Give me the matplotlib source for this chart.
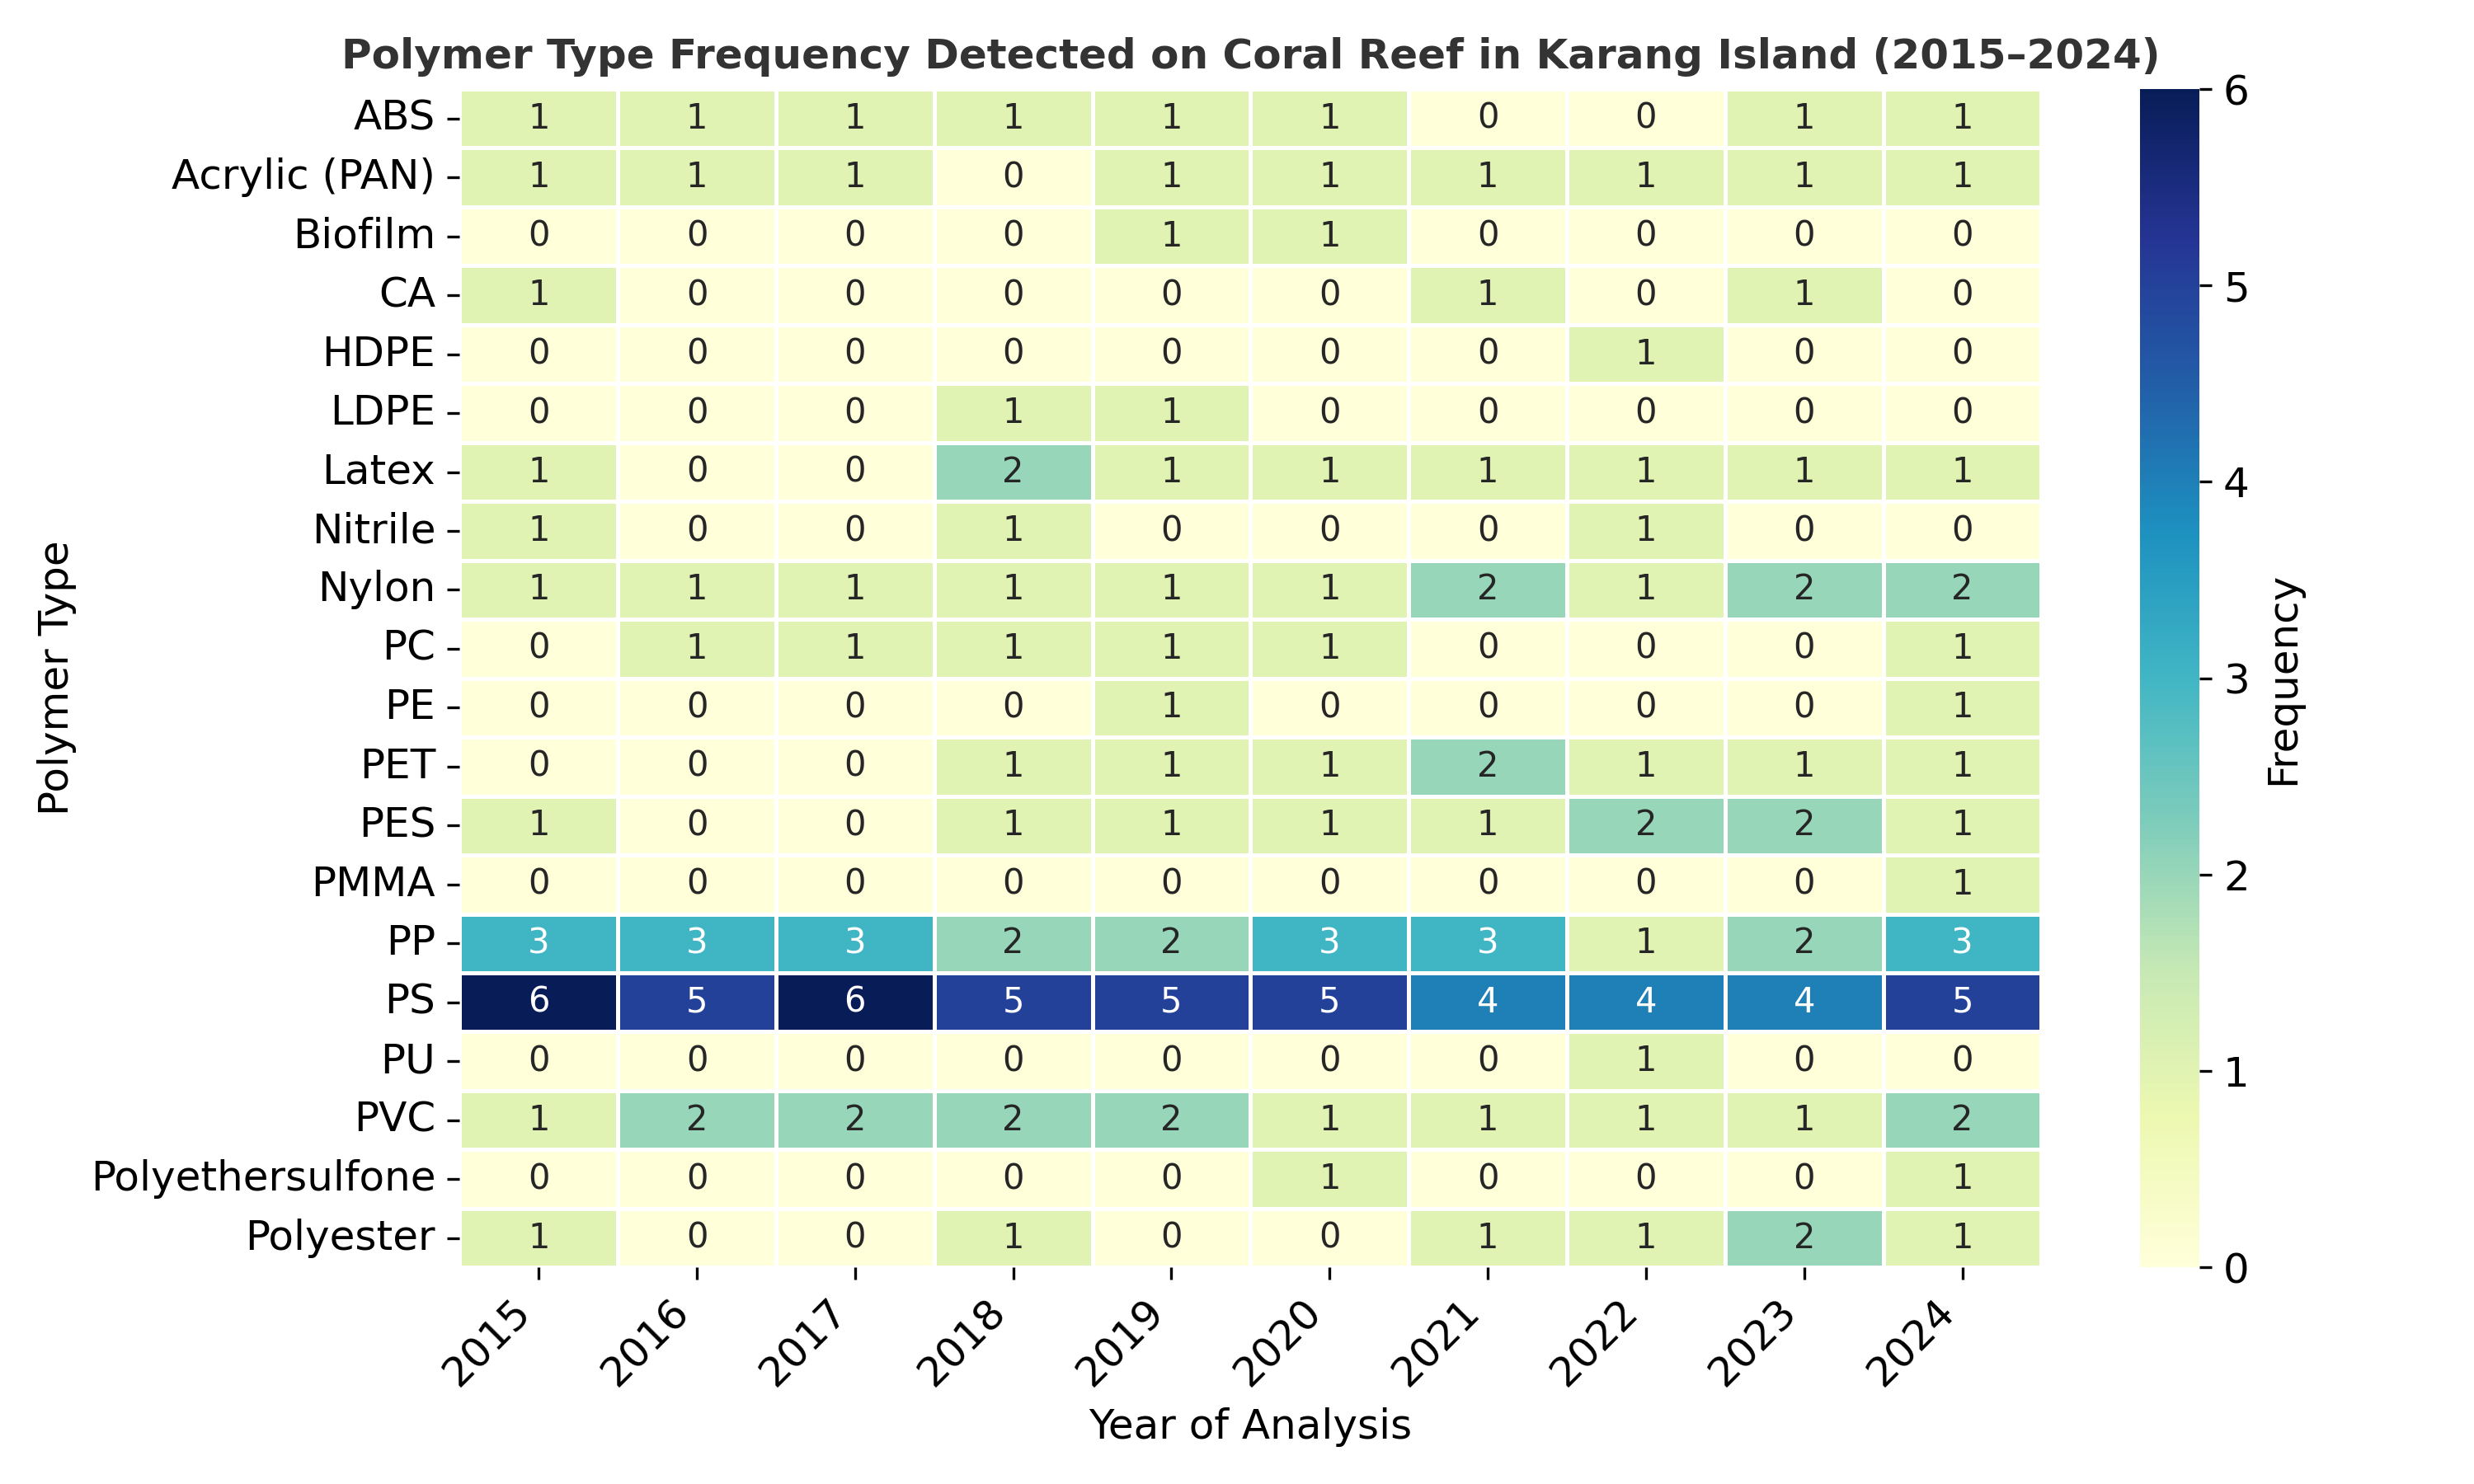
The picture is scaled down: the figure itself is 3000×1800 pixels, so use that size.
import numpy as np
import pandas as pd
import matplotlib
matplotlib.use("Agg")
import matplotlib.pyplot as plt
import seaborn as sns

years = [2015, 2016, 2017, 2018, 2019, 2020, 2021, 2022, 2023, 2024]
polymers = ["ABS", "Acrylic (PAN)", "Biofilm", "CA", "HDPE", "LDPE", "Latex",
            "Nitrile", "Nylon", "PC", "PE", "PET", "PES", "PMMA", "PP", "PS",
            "PU", "PVC", "Polyethersulfone", "Polyester"]

abs_ = [1, 1, 1, 1, 1, 1, 0, 0, 1, 1]
acrylic = [1, 1, 1, 0, 1, 1, 1, 1, 1, 1]
biofilm = [0, 0, 0, 0, 1, 1, 0, 0, 0, 0]
ca = [1, 0, 0, 0, 0, 0, 1, 0, 1, 0]
hdpe = [0, 0, 0, 0, 0, 0, 0, 1, 0, 0]
ldpe = [0, 0, 0, 1, 1, 0, 0, 0, 0, 0]
latex = [1, 0, 0, 2, 1, 1, 1, 1, 1, 1]
nitrile = [1, 0, 0, 1, 0, 0, 0, 1, 0, 0]
nylon = [1, 1, 1, 1, 1, 1, 2, 1, 2, 2]
pc = [0, 1, 1, 1, 1, 1, 0, 0, 0, 1]
pe = [0, 0, 0, 0, 1, 0, 0, 0, 0, 1]
pet = [0, 0, 0, 1, 1, 1, 2, 1, 1, 1]
pes = [1, 0, 0, 1, 1, 1, 1, 2, 2, 1]
pmma = [0, 0, 0, 0, 0, 0, 0, 0, 0, 1]
pp = [3, 3, 3, 2, 2, 3, 3, 1, 2, 3]
ps = [6, 5, 6, 5, 5, 5, 4, 4, 4, 5]
pu = [0, 0, 0, 0, 0, 0, 0, 1, 0, 0]
pvc = [1, 2, 2, 2, 2, 1, 1, 1, 1, 2]
polyethersulfone = [0, 0, 0, 0, 0, 1, 0, 0, 0, 1]
polyester = [1, 0, 0, 1, 0, 0, 1, 1, 2, 1]

rows = [abs_, acrylic, biofilm, ca, hdpe, ldpe, latex, nitrile, nylon, pc, pe,
        pet, pes, pmma, pp, ps, pu, pvc, polyethersulfone, polyester]
df = pd.DataFrame(rows, index=polymers, columns=years)

plt.rcParams['font.family'] = ['DejaVu Sans']
plt.rcParams['font.size'] = 12

fig, ax = plt.subplots(figsize=(10, 6), dpi=300)
sns.heatmap(df, cmap="YlGnBu", annot=True, fmt="d", linewidths=0.8,
            linecolor="white", annot_kws={"size": 10},
            cbar_kws={"label": "Frequency"}, ax=ax)
ax.set_title("Polymer Type Frequency Detected on Coral Reef in Karang Island (2015–2024)",
             fontsize=12, fontweight="bold", color="#333333")
ax.set_xlabel("Year of Analysis", fontsize=12)
ax.set_ylabel("Polymer Type", fontsize=12)
plt.setp(ax.get_xticklabels(), rotation=45, ha="right", rotation_mode="default")
plt.setp(ax.get_yticklabels(), rotation=0)
fig.tight_layout(pad=0.9)
fig.savefig("out.png", dpi=300)
